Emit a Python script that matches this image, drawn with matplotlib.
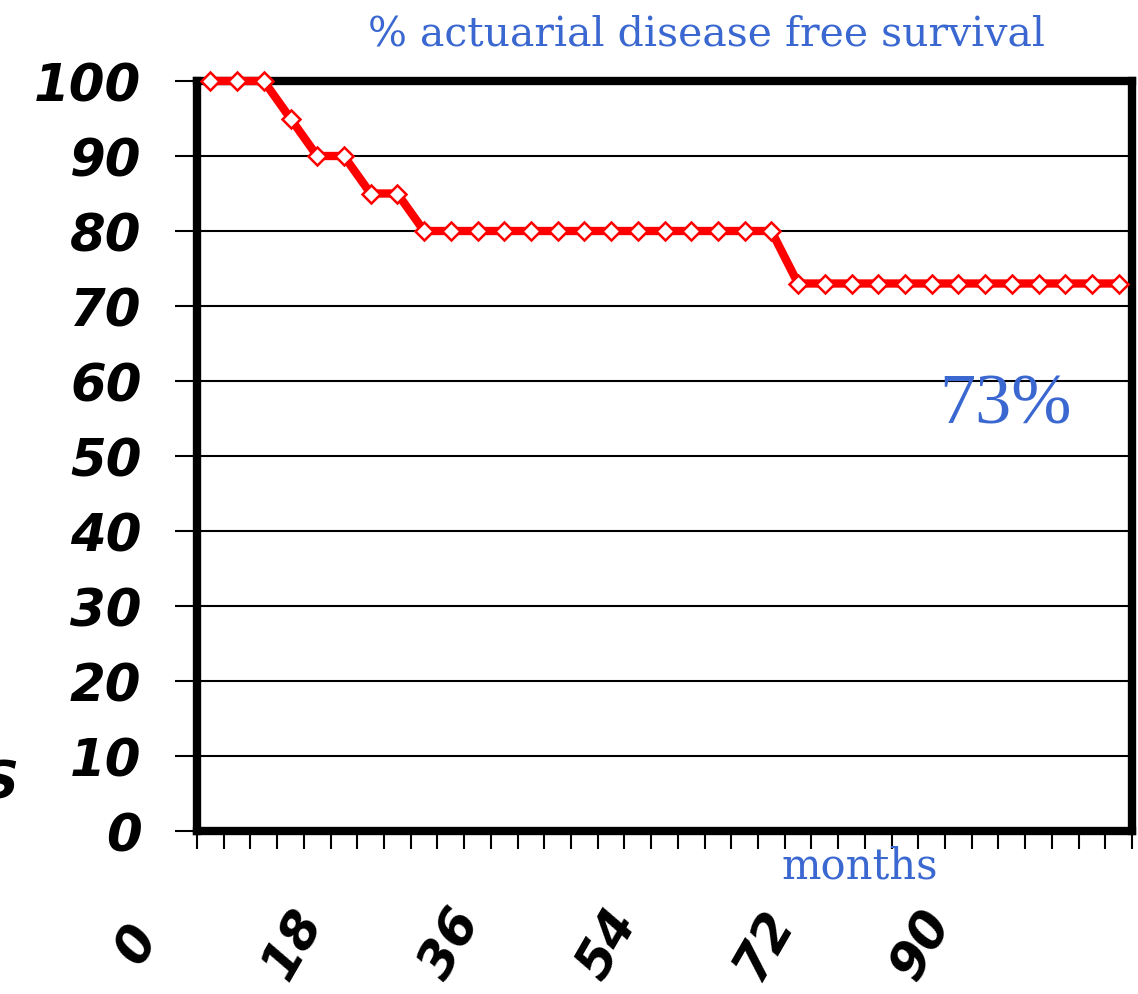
# Actuarial disease free survival curve
import matplotlib
matplotlib.use('Agg')
import matplotlib.pyplot as plt
from matplotlib.transforms import blended_transform_factory

# survival (%) at each 3-month step
survival = [100, 100, 100, 95, 90, 90, 85, 85,
            80, 80, 80, 80, 80, 80, 80, 80, 80, 80, 80, 80, 80, 80,
            73, 73, 73, 73, 73, 73, 73, 73, 73, 73, 73, 73, 73]
month_labels = ['0', '18', '36', '54', '72', '90']
y_ticks = [0, 10, 20, 30, 40, 50, 60, 70, 80, 90, 100]

blue = '#3a68d0'
digit_font = dict(family='DejaVu Sans', fontweight='heavy', fontstyle='italic', fontsize=37)

fig = plt.figure(figsize=(11.38, 9.95), dpi=100)
ax = fig.add_axes([197/1138, 1 - 832/995, (1132-197)/1138, (832-82)/995])

n = len(survival)
ax.plot(range(n), survival, color='red', lw=6, marker='D', markersize=9,
        markerfacecolor='white', markeredgecolor='red', markeredgewidth=1.8,
        zorder=3, clip_on=False)

ax.set_xlim(-0.5, n - 0.5)
ax.set_ylim(0, 100)

for s in ax.spines.values():
    s.set_linewidth(6)
    s.set_color('black')

# y axis
ax.set_yticks(y_ticks)
ax.set_yticklabels([str(v) for v in y_ticks], **digit_font)
ax.tick_params(axis='y', direction='out', length=16, width=1.5, pad=24)
for v in y_ticks[1:-1]:
    ax.axhline(v, color='black', lw=1.5, zorder=1)

# x axis: a tick at every category boundary, labels placed separately
ax.set_xticks([i - 0.5 for i in range(n + 1)])
ax.set_xticklabels([])
ax.tick_params(axis='x', direction='out', length=13, width=1.5)

tr = blended_transform_factory(ax.transData, ax.transAxes)
for i, lab in enumerate(month_labels):
    ax.text(-2.72 + i * 5.87, -0.151, lab, transform=tr, rotation=60,
            ha='center', va='center', **digit_font)

fig.text(707/1138, 1 - 45/995, '% actuarial disease free survival',
         family='DejaVu Serif', fontsize=29.5, color=blue, ha='center', va='baseline')
ax.text(1005/1138, 1 - 423/995, '73%', transform=fig.transFigure,
        family='Liberation Serif', fontsize=52, color=blue, ha='center', va='baseline')
fig.text(860/1138, 1 - 879/995, 'months',
         family='DejaVu Serif', fontsize=30, color=blue, ha='center', va='baseline')

# clipped label fragment at the left edge
fig.text(0.0, 1 - 785/995, 'S', ha='center', va='center', **digit_font)

plt.savefig('out.png', dpi=100)
